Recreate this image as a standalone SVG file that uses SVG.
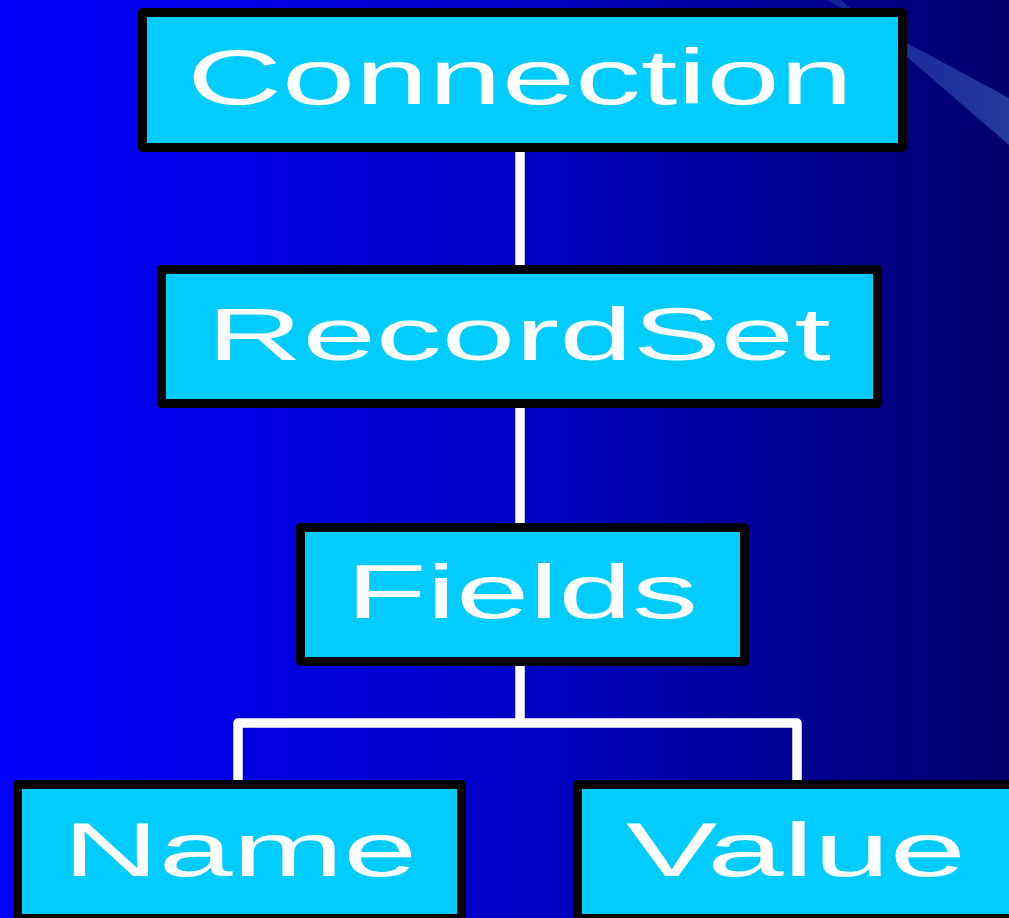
<svg xmlns="http://www.w3.org/2000/svg" width="1009" height="918" viewBox="0 0 1009 918">
  <defs>
    <linearGradient id="bg" x1="0" y1="0" x2="1" y2="0">
      <stop offset="0" stop-color="#0000FF"/>
      <stop offset="0.15" stop-color="#0000EE"/>
      <stop offset="0.5" stop-color="#0000C8"/>
      <stop offset="1" stop-color="#00006C"/>
    </linearGradient>
    <linearGradient id="streak" x1="0" y1="0" x2="1" y2="0">
      <stop offset="0" stop-color="#3050B0" stop-opacity="0.45"/>
      <stop offset="1" stop-color="#3558B8" stop-opacity="0.65"/>
    </linearGradient>
    <style>
      .box { fill: #00CCFF; stroke: #000000; stroke-width: 9; stroke-linejoin: round; }
      .lbl { fill: #FFFFFF; font-family: "Liberation Sans", Arial, sans-serif; }
      .conn { fill: none; stroke: #FFFFFF; stroke-width: 9.5; stroke-linejoin: round; stroke-linecap: butt; }
    </style>
  </defs>
  <rect x="0" y="0" width="1009" height="918" fill="url(#bg)"/>
  <polygon points="827,0 841,0 1009,145 1009,98" fill="url(#streak)"/>

  <g id="connectors">
    <path class="conn" d="M520,150 V268"/>
    <path class="conn" d="M520,406 V526"/>
    <path class="conn" d="M520,664 V723"/>
    <path class="conn" d="M238,782 V723 H797 V782"/>
  </g>

  <g id="node-connection">
    <rect class="box" x="142.5" y="12.5" width="760" height="135"/>
    <text class="lbl" x="187" y="104" font-size="77" textLength="666" lengthAdjust="spacingAndGlyphs">Connection</text>
  </g>
  <g id="node-recordset">
    <rect class="box" x="161.5" y="269.5" width="716" height="134"/>
    <text class="lbl" x="207" y="360" font-size="75" textLength="624" lengthAdjust="spacingAndGlyphs">RecordSet</text>
  </g>
  <g id="node-fields">
    <rect class="box" x="300.5" y="527.5" width="444" height="134"/>
    <text class="lbl" x="346" y="618" font-size="76" textLength="352" lengthAdjust="spacingAndGlyphs">Fields</text>
  </g>
  <g id="node-name">
    <rect class="box" x="17.5" y="784.5" width="444" height="134"/>
    <text class="lbl" x="63" y="876" font-size="76" textLength="354" lengthAdjust="spacingAndGlyphs">Name</text>
  </g>
  <g id="node-value">
    <rect class="box" x="577.5" y="784.5" width="444" height="134"/>
    <text class="lbl" x="626" y="876" font-size="76" textLength="340" lengthAdjust="spacingAndGlyphs">Value</text>
  </g>
</svg>
